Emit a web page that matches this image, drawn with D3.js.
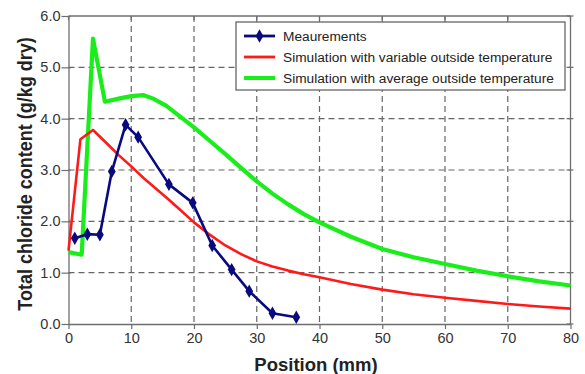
<!DOCTYPE html>
<html>
<head>
<meta charset="utf-8">
<script src="https://cdn.jsdelivr.net/npm/d3@7"></script>
<style>
  html, body { margin: 0; padding: 0; background: #fff; }
  svg { display: block; font-family: "Liberation Sans", Arial, Helvetica, sans-serif; }
</style>
</head>
<body>
<svg id="chart" width="585" height="374"></svg>
<script>
// Measured chloride profile (position in mm, content in g/kg dry)
const measPos = [1.0, 3.0, 5.0, 6.9, 9.1, 11.1, 16.0, 19.8, 22.9, 26.0, 28.8, 32.5, 36.3];
const measVal = [1.67, 1.75, 1.74, 2.97, 3.88, 3.64, 2.72, 2.36, 1.53, 1.06, 0.64, 0.21, 0.13];

// Simulation with variable outside temperature
const varPos = [0, 1.9, 3.9, 6, 8, 10, 12, 14, 16, 18, 20, 22.5, 25, 27.5, 30, 32.5, 35, 37.5, 40, 45, 50, 55, 60, 65, 70, 75, 80];
const varVal = [1.43, 3.6, 3.78, 3.53, 3.29, 3.07, 2.84, 2.63, 2.42, 2.2, 1.98, 1.74, 1.53, 1.36, 1.22, 1.12, 1.04, 0.97, 0.91, 0.78, 0.67, 0.58, 0.51, 0.45, 0.39, 0.34, 0.30];

// Simulation with average outside temperature
const avgPos = [0, 2.1, 3.9, 5.8, 8, 10, 11.9, 13.5, 15.6, 18, 20, 22.5, 25, 27.5, 30, 32.5, 35, 37.5, 40, 45, 50, 55, 60, 65, 70, 75, 80];
const avgVal = [1.40, 1.35, 5.56, 4.33, 4.39, 4.44, 4.46, 4.39, 4.25, 4.02, 3.83, 3.57, 3.31, 3.04, 2.78, 2.54, 2.33, 2.14, 1.98, 1.70, 1.46, 1.30, 1.17, 1.04, 0.93, 0.83, 0.75];

const xTicks = [0, 10, 20, 30, 40, 50, 60, 70, 80];
const yTicks = [0, 1, 2, 3, 4, 5, 6];

const seriesNames = [
  "Meaurements",
  "Simulation with variable outside temperature",
  "Simulation with average outside temperature"
];
const seriesColors = ["#0a0a80", "#ff1a1a", "#1aee1a"];

const svg = d3.select("#chart");
const plotL = 68.5, plotR = 570.5, plotT = 16, plotB = 324;

const x = d3.scaleLinear().domain([0, 80]).range([plotL, plotR]);
const y = d3.scaleLinear().domain([0, 6]).range([plotB, plotT]);

const axisColor = "#6e6e6e";
const textColor = "#333";

// dashed grid
const grid = svg.append("g");
grid.selectAll("line.vx").data(xTicks.slice(1, -1)).join("line")
  .attr("x1", d => x(d)).attr("x2", d => x(d))
  .attr("y1", plotT).attr("y2", plotB)
  .attr("stroke", "#666").attr("stroke-width", 1.2).attr("stroke-dasharray", "6,4");
grid.selectAll("line.hy").data(yTicks.slice(1, -1)).join("line")
  .attr("x1", plotL).attr("x2", plotR)
  .attr("y1", d => y(d)).attr("y2", d => y(d))
  .attr("stroke", "#666").attr("stroke-width", 1.2).attr("stroke-dasharray", "6,4");

// frame: top and right sides with small ticks
const frame = svg.append("g");
frame.append("line").attr("x1", plotL).attr("x2", plotR).attr("y1", plotT).attr("y2", plotT)
  .attr("stroke", axisColor).attr("stroke-width", 1.3);
frame.append("line").attr("x1", plotR).attr("x2", plotR).attr("y1", plotT).attr("y2", plotB)
  .attr("stroke", axisColor).attr("stroke-width", 1.3);
frame.selectAll("line.tt").data(xTicks).join("line")
  .attr("x1", d => x(d)).attr("x2", d => x(d)).attr("y1", plotT).attr("y2", plotT + 4)
  .attr("stroke", axisColor).attr("stroke-width", 1.2);
frame.selectAll("line.rt").data(yTicks).join("line")
  .attr("x1", plotR - 4).attr("x2", plotR + 3).attr("y1", d => y(d)).attr("y2", d => y(d))
  .attr("stroke", axisColor).attr("stroke-width", 1.2);

// axes
const xAxis = svg.append("g").attr("transform", `translate(0,${plotB})`)
  .call(d3.axisBottom(x).tickValues(xTicks).tickSizeInner(5).tickSizeOuter(0).tickPadding(4).tickFormat(d3.format("d")));
const yAxis = svg.append("g").attr("transform", `translate(${plotL},0)`)
  .call(d3.axisLeft(y).tickValues(yTicks).tickSizeInner(7).tickSizeOuter(0).tickPadding(1).tickFormat(d3.format(".1f")));
[xAxis, yAxis].forEach(a => {
  a.select(".domain").attr("stroke", axisColor).attr("stroke-width", 1.3);
  a.selectAll(".tick line").attr("stroke", axisColor).attr("stroke-width", 1.2);
  a.selectAll(".tick text").attr("fill", textColor)
    .style("font-family", "'Liberation Sans', Arial, sans-serif").style("font-size", "14.5px");
});
yAxis.selectAll(".tick line").attr("x2", -7).attr("x1", 2);

// axis titles
svg.append("text").attr("x", 316).attr("y", 371).attr("text-anchor", "middle")
  .attr("font-weight", "bold").attr("font-size", "18.5px").attr("fill", "#222")
  .text("Position (mm)");
svg.append("text").attr("transform", "translate(32,174) scale(1.15,1) rotate(-90)").attr("text-anchor", "middle")
  .attr("font-weight", "bold").attr("font-size", "18px").attr("fill", "#222")
  .text("Total chloride content (g/kg dry)");

// series
const toPts = (px, py) => px.map((p, i) => [p, py[i]]);
const line = d3.line().x(d => x(d[0])).y(d => y(d[1]));
const plot = svg.append("g");

plot.append("path").datum(toPts(avgPos, avgVal)).attr("d", line)
  .attr("fill", "none").attr("stroke", seriesColors[2]).attr("stroke-width", 4.2)
  .attr("stroke-linejoin", "round");
plot.append("path").datum(toPts(varPos, varVal)).attr("d", line)
  .attr("fill", "none").attr("stroke", seriesColors[1]).attr("stroke-width", 2.6)
  .attr("stroke-linejoin", "round");
plot.append("path").datum(toPts(measPos, measVal)).attr("d", line)
  .attr("fill", "none").attr("stroke", seriesColors[0]).attr("stroke-width", 2.6)
  .attr("stroke-linejoin", "round");
const diamond = d3.symbol().type(d3.symbolDiamond).size(52);
plot.selectAll("path.m").data(toPts(measPos, measVal)).join("path")
  .attr("d", diamond)
  .attr("transform", d => `translate(${x(d[0])},${y(d[1])})`)
  .attr("fill", seriesColors[0]);

// legend
const lg = svg.append("g");
lg.append("rect").attr("x", 236).attr("y", 22).attr("width", 329).attr("height", 68)
  .attr("fill", "#fff").attr("stroke", "#666").attr("stroke-width", 1.3);
const rowY = [36, 57, 78];
seriesNames.forEach((name, i) => {
  lg.append("line").attr("x1", 244).attr("x2", 275).attr("y1", rowY[i]).attr("y2", rowY[i])
    .attr("stroke", seriesColors[i]).attr("stroke-width", i === 2 ? 4 : 2.8);
  if (i === 0) {
    lg.append("path").attr("d", diamond)
      .attr("transform", `translate(259.5,${rowY[i]})`).attr("fill", seriesColors[0]);
  }
  lg.append("text").attr("x", 283).attr("y", rowY[i]).attr("dy", "0.36em")
    .attr("font-size", "13.7px").attr("fill", "#222").text(name);
});
</script>
</body>
</html>
